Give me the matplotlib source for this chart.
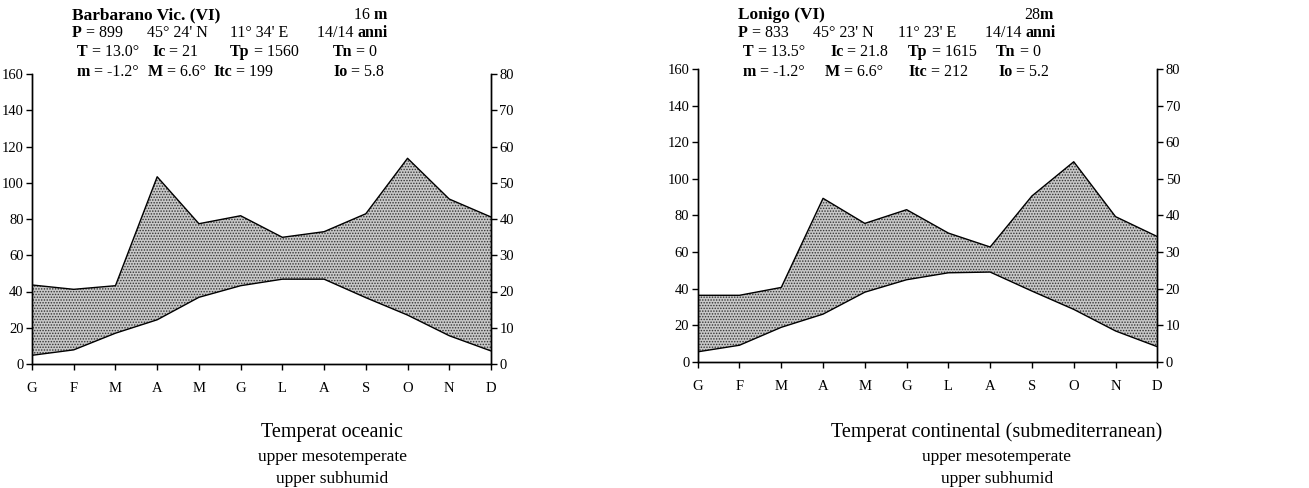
import numpy as np
import matplotlib
matplotlib.use("Agg")
import matplotlib.pyplot as plt
from matplotlib.text import Annotation

plt.rcParams['font.family'] = ['Liberation Serif', 'DejaVu Serif']
plt.rcParams['hatch.linewidth'] = 0.7

months = ['G', 'F', 'M', 'A', 'M', 'G', 'L', 'A', 'S', 'O', 'N', 'D']

# Barbarano Vic. (VI)
p_barb = [43.6, 41.2, 43.2, 103.3, 77.4, 81.8, 69.9, 73.0, 82.9, 113.5, 91.0, 81.1]
t_barb = [2.4, 3.9, 8.5, 12.2, 18.4, 21.6, 23.4, 23.4, 18.3, 13.5, 7.8, 3.6]

# Lonigo (VI)
p_lon = [36.3, 36.3, 40.6, 89.3, 75.6, 83.1, 70.3, 62.7, 90.6, 109.3, 79.3, 68.4]
t_lon = [2.7, 4.5, 9.4, 13.0, 19.0, 22.4, 24.3, 24.5, 19.3, 14.3, 8.4, 4.1]

p_ticks = [0, 20, 40, 60, 80, 100, 120, 140, 160]
t_ticks = [0, 10, 20, 30, 40, 50, 60, 70, 80]

W, H = 1309, 488
fig = plt.figure(figsize=(W / 100, H / 100), dpi=100)


def fx(x):
    return x / W


def fy(y):
    return 1 - y / H


def draw_chart(rect, p, t):
    ax = fig.add_axes(rect)
    ax2 = ax.twinx()
    x = np.arange(len(months))
    t2 = np.array(t) * 2  # right scale is half of left scale
    ax.fill_between(x, t2, p, facecolor='#c8c8c8', edgecolor='#333333',
                    linewidth=0, hatch='......')
    ax.plot(x, p, color='black', lw=1)
    ax2.plot(x, t, color='black', lw=1)
    ax.set_xlim(0, 11)
    ax.set_ylim(0, 160)
    ax2.set_ylim(0, 80)
    ax.set_yticks(p_ticks)
    ax2.set_yticks(t_ticks)
    ax.set_xticks(x)
    ax.set_xticklabels(months)
    for a in (ax, ax2):
        a.set_facecolor('none')
        a.spines['top'].set_visible(False)
        for s in a.spines.values():
            s.set_linewidth(1.0)
        a.tick_params(labelsize=10.5, length=4, width=1, pad=2)
    ax.tick_params(axis='x', pad=9)
    return ax


ax_l = draw_chart([fx(32), 1 - 364 / H, 459 / W, 290 / H], p_barb, t_barb)
ax_r = draw_chart([fx(697.7), 1 - 361.7 / H, 459.6 / W, 292.7 / H], p_lon, t_lon)


def chain(x, y, pieces, size=11.5):
    prev = None
    for txt, bold in pieces:
        w = 'bold' if bold else 'normal'
        if prev is None:
            prev = fig.text(fx(x), fy(y), txt, fontsize=size, fontweight=w,
                            ha='left', va='center')
        else:
            prev = fig.add_artist(Annotation(txt, xy=(1, 0.5), xycoords=prev,
                                             fontsize=size, fontweight=w,
                                             ha='left', va='center',
                                             annotation_clip=False))
    return prev


def header(x0, c, title, alt, p_val, lat, lon, t_val, ic, tp, tn, m, mm, itc, io):
    chain(x0, 15, [(title, True)], size=12.5)
    chain(c['alt'], 15, alt)
    chain(x0, 33, [('P', True), (' = ' + p_val, False)])
    chain(c['lat'], 33, [(lat, False)])
    chain(c['lon'], 33, [(lon, False)])
    chain(c['anni'], 33, [('14/14 ', False), ('anni', True)])
    chain(x0 + 5, 52, [('T', True), (' = ' + t_val, False)])
    chain(c['ic'], 52, [('Ic', True), (' = ' + ic, False)])
    chain(c['tp'], 52, [('Tp', True), (' = ' + tp, False)])
    chain(c['tn'], 52, [('Tn', True), (' = ' + tn, False)])
    chain(x0 + 5, 72, [('m', True), (' = ' + m, False)])
    chain(c['M'], 72, [('M', True), (' = ' + mm, False)])
    chain(c['itc'], 72, [('Itc', True), (' = ' + itc, False)])
    chain(c['io'], 72, [('Io', True), (' = ' + io, False)])


header(72, dict(alt=354, lat=147, lon=230, anni=317, ic=152, tp=230, tn=333,
                M=148, itc=213, io=333),
       'Barbarano Vic. (VI)', [('16 ', False), ('m', True)], '899',
       "45° 24' N", "11° 34' E", '13.0°', '21', '1560', '0',
       '-1.2°', '6.6°', '199', '5.8')

header(738, dict(alt=1024, lat=813, lon=898, anni=985, ic=830, tp=908, tn=996,
                 M=825, itc=908, io=998),
       'Lonigo (VI)', [('28', False), ('m', True)], '833',
       "45° 23' N", "11° 23' E", '13.5°', '21.8', '1615', '0',
       '-1.2°', '6.6°', '212', '5.2')

captions = [
    (332, 'Temperat oceanic'),
    (997, 'Temperat continental (submediterranean)'),
]
for cx, main in captions:
    fig.text(fx(cx), fy(432), main, fontsize=14.5, ha='center', va='center')
    fig.text(fx(cx), fy(457), 'upper mesotemperate', fontsize=12.5,
             ha='center', va='center')
    fig.text(fx(cx), fy(479), 'upper subhumid', fontsize=12.5,
             ha='center', va='center')

fig.savefig('out.png', dpi=100)
